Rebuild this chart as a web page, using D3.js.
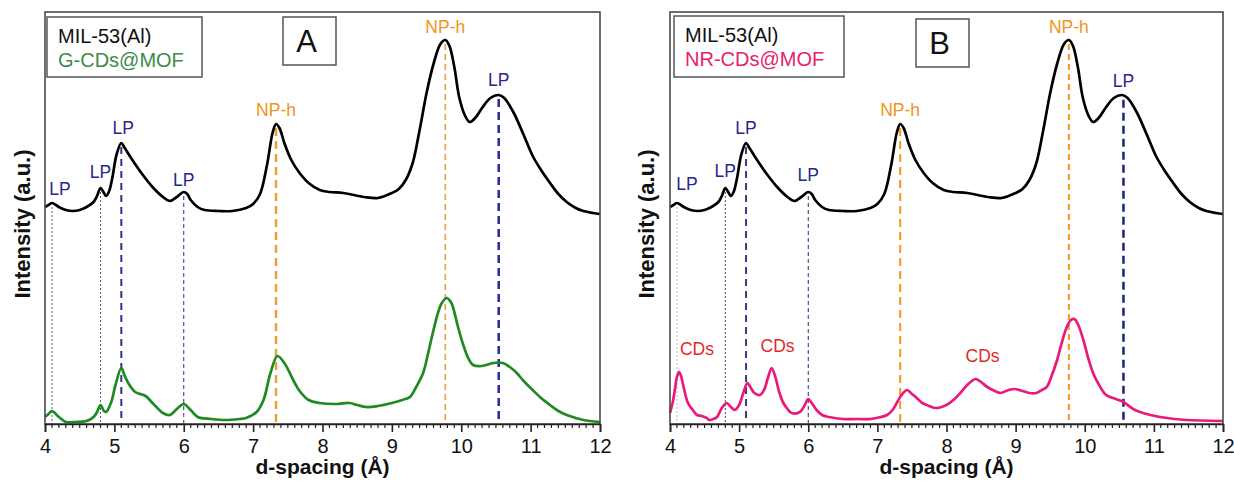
<!DOCTYPE html>
<html>
<head>
<meta charset="utf-8">
<script src="https://cdn.jsdelivr.net/npm/d3@7"></script>
<style>
  html, body { margin: 0; padding: 0; background: #fff; }
  svg { display: block; font-family: "Liberation Sans", Arial, sans-serif; }
</style>
</head>
<body>
<svg id="chart" width="1234" height="481"></svg>
<script>
// ---------------- DATA (arbitrary intensity units) ----------------
const xTicks = [4, 5, 6, 7, 8, 9, 10, 11, 12];

// MIL-53(Al) pattern (black, same in both panels)
const milD = [4.0,4.05,4.1,4.2,4.3,4.4,4.5,4.6,4.7,4.75,4.8,4.85,4.88,4.92,4.97,5.03,5.1,5.15,5.25,5.4,5.55,5.7,5.8,5.9,6.0,6.05,6.1,6.2,6.3,6.5,6.7,6.9,7.0,7.1,7.2,7.28,7.33,7.38,7.45,7.55,7.67,7.8,7.96,8.1,8.3,8.6,8.8,9.0,9.1,9.2,9.3,9.4,9.5,9.6,9.7,9.77,9.83,9.9,9.97,10.05,10.12,10.2,10.3,10.42,10.54,10.62,10.75,10.9,11.03,11.15,11.28,11.4,11.52,11.65,11.76,11.9,12.0];
const milI = [217,219,221,217,214,213,214,217,222,228,236,231,228,232,246,269,281,276,265,250,237,227,223,227,232,230,224,217,214,213,213,216,220,230,259,291,300,296,281,264,251,241,234,232,231,227,226,231,235,244,261,294,331,360,380,384,378,357,327,309,302,306,316,326,329,326,312,289,268,254,241,230,222,216,213,211,210];

// G-CDs@MOF (green, panel A)
const gD = [4.0,4.05,4.1,4.2,4.3,4.45,4.6,4.7,4.75,4.8,4.85,4.88,4.95,5.02,5.1,5.15,5.2,5.3,5.45,5.55,5.7,5.8,5.9,6.0,6.1,6.2,6.4,6.6,6.8,6.9,7.05,7.15,7.25,7.35,7.45,7.6,7.67,7.8,7.96,8.2,8.39,8.5,8.63,8.8,9.0,9.15,9.26,9.35,9.45,9.52,9.59,9.66,9.72,9.79,9.85,9.88,9.95,10.02,10.1,10.17,10.3,10.46,10.6,10.7,10.8,10.9,11.03,11.15,11.28,11.4,11.52,11.65,11.76,12.0];
const gI = [7,10,13,7,2,2,3,7,12,19,13,12,21,40,56,48,41,32,28,21,11,9,15,20,14,7,5,4,5,6,12,24,51,68,61,41,33,24,21,20,21,19,17,18,21,24,27,37,51,70,91,110,121,126,122,117,98,81,66,59,58,61,61,57,51,43,34,26,19,13,9,6,4,2];

// NR-CDs@MOF (pink, panel B)
const nrD = [4.0,4.04,4.07,4.1,4.13,4.16,4.2,4.26,4.33,4.39,4.46,4.53,4.57,4.63,4.68,4.75,4.82,4.88,4.94,5.0,5.06,5.12,5.17,5.22,5.3,5.36,5.42,5.47,5.52,5.58,5.64,5.7,5.76,5.88,5.95,6.0,6.06,6.12,6.2,6.3,6.5,6.7,6.9,7.05,7.14,7.22,7.28,7.35,7.43,7.5,7.57,7.65,7.75,7.85,8.0,8.1,8.2,8.3,8.42,8.5,8.59,8.7,8.78,8.9,8.99,9.1,9.2,9.3,9.38,9.45,9.52,9.6,9.67,9.74,9.8,9.85,9.9,9.98,10.05,10.12,10.2,10.31,10.45,10.56,10.7,10.8,10.95,11.09,11.3,11.47,12.0];
const nrI = [11,22,34,47,52,48,36,21,14,9,8,6,4,5,7,16,21,17,14,19,31,41,36,31,29,34,47,56,48,32,21,15,11,12,19,25,20,14,9,7,5,5,5,7,9,14,21,29,34,30,26,21,18,16,19,24,31,39,45,42,37,33,31,34,35,33,31,31,34,37,48,64,82,97,104,105,100,84,66,51,40,29,25,22,15,12,9,7,5,4,3];

// Reference lines (d-spacing, phase label)
const refA_D = [4.1, 4.8, 5.1, 6.0, 7.33, 9.77, 10.54];
const refB_D = [4.1, 4.8, 5.1, 6.0, 7.33, 9.77, 10.56];
const refLabels = ["LP", "LP", "LP", "LP", "NP-h", "NP-h", "LP"];

// CDs peaks in panel B
const cdsD = [4.13, 5.47, 8.42];
const cdsLabels = ["CDs", "CDs", "CDs"];

const legendA = ["MIL-53(Al)", "G-CDs@MOF"];
const legendB = ["MIL-53(Al)", "NR-CDs@MOF"];
const panelLetters = ["A", "B"];
const xTitle = "d-spacing (Å)";
const yTitle = "Intensity (a.u.)";

// ---------------- DRAWING ----------------
const svg = d3.select("#chart");
const navy = "#25258f";
const orangeTxt = "#f39320";
const zip = (xs, ys) => xs.map((x, i) => ({x, y: ys[i]}));
const interp = (xs, ys, v) => {
  for (let i = 0; i < xs.length - 1; i++) {
    if (v >= xs[i] && v <= xs[i + 1]) {
      const t = (v - xs[i]) / (xs[i + 1] - xs[i]);
      return ys[i] + t * (ys[i + 1] - ys[i]);
    }
  }
  return ys[ys.length - 1];
};

const panels = [
  {x0: 45, x1: 600, y0: 424, y1: 12, cD: gD, cI: gI, color: "#1f8a1f", legend: legendA, legColor: "#3b8c4a",
   legBox: [47, 17, 155, 60], letterBox: [283, 17, 53, 48], refD: refA_D, ylabX: 30,
   lineStyles: [
     {c: "#5a5a7a", w: 1, da: "2,2"}, {c: "#5a5a7a", w: 1, da: "2,2"}, {c: "#30309a", w: 2, da: "7,5"},
     {c: "#30307f", w: 1, da: "4,3"}, {c: "#e9a03a", w: 2.5, da: "8,5"}, {c: "#e9a03a", w: 1.6, da: "6,4"},
     {c: "#2828a0", w: 2.5, da: "8,5"}],
   labDx: [8, 0, 2, 0, 0, 0, 0], labDy: [8, 10, 9, 6, 8, 7, 9]},
  {x0: 670, x1: 1223, y0: 424, y1: 12, cD: nrD, cI: nrI, color: "#ea1a7d", legend: legendB, legColor: "#e8206e",
   legBox: [674, 16, 170, 61], letterBox: [916, 19, 53, 48], refD: refB_D, ylabX: 654,
   lineStyles: [
     {c: "#bdbdbd", w: 1, da: "2,2"}, {c: "#4a4a6a", w: 1, da: "2,2"}, {c: "#3c3c80", w: 2, da: "7,5"},
     {c: "#2a2a70", w: 1, da: "4,3"}, {c: "#f7931e", w: 2, da: "8,5"}, {c: "#f7931e", w: 2, da: "6,4"},
     {c: "#1a2380", w: 2.5, da: "8,5"}],
   labDx: [10, 0, 0, 0, 0, 0, 0], labDy: [13, 11, 9, 11, 8, 7, 9]}
];

panels.forEach((p, pi) => {
  const x = d3.scaleLinear().domain([4, 12]).range([p.x0, p.x1]);
  const y = d3.scaleLinear().domain([0, 412]).range([p.y0, p.y1]);
  const g = svg.append("g");

  // reference lines
  p.refD.forEach((d, i) => {
    const top = y(interp(milD, milI, d)) + 4;
    const s = p.lineStyles[i];
    g.append("line").attr("x1", x(d)).attr("x2", x(d)).attr("y1", top).attr("y2", p.y0)
      .attr("stroke", s.c).attr("stroke-width", s.w).attr("stroke-dasharray", s.da);
    g.append("text").attr("x", x(d) + p.labDx[i]).attr("y", y(interp(milD, milI, d)) - p.labDy[i])
      .attr("text-anchor", "middle").attr("font-size", 17.5)
      .attr("fill", refLabels[i] === "LP" ? navy : orangeTxt).text(refLabels[i]);
  });

  const line = d3.line().x(d => x(d.x)).y(d => y(d.y)).curve(d3.curveCatmullRom.alpha(0.5));
  g.append("path").datum(zip(milD, milI)).attr("d", line)
    .attr("fill", "none").attr("stroke", "#000").attr("stroke-width", 2.7).attr("stroke-linejoin", "round");
  g.append("path").datum(zip(p.cD, p.cI)).attr("d", line)
    .attr("fill", "none").attr("stroke", p.color).attr("stroke-width", 2.7).attr("stroke-linejoin", "round");

  if (pi === 1) {
    const cdx = [18, 6, 7], cdy = [17, 16, 17];
    cdsD.forEach((d, i) => {
      g.append("text").attr("x", x(d) + cdx[i]).attr("y", y(interp(nrD, nrI, d)) - cdy[i])
        .attr("text-anchor", "middle").attr("font-size", 17.5).attr("fill", "#e02a2a").text(cdsLabels[i]);
    });
  }

  // frame
  g.append("rect").attr("x", p.x0).attr("y", p.y1).attr("width", p.x1 - p.x0).attr("height", p.y0 - p.y1)
    .attr("fill", "none").attr("stroke", "#4a4a4a").attr("stroke-width", 1.6);

  // x axis ticks
  const minor = d3.range(40, 121).map(v => v / 10).filter(v => Math.abs(v - Math.round(v)) > 1e-6);
  g.selectAll(null).data(minor).join("line")
    .attr("x1", d => x(d)).attr("x2", d => x(d)).attr("y1", p.y0).attr("y2", p.y0 + 4)
    .attr("stroke", "#222").attr("stroke-width", 1.2);
  const axis = d3.axisBottom(x).tickValues(xTicks).tickSize(8).tickPadding(7).tickFormat(d3.format("d"));
  const ax = g.append("g").attr("transform", `translate(0,${p.y0})`).call(axis);
  ax.select(".domain").attr("stroke", "#222").attr("stroke-width", 1.6);
  ax.selectAll(".tick line").attr("stroke", "#222").attr("stroke-width", 1.6);
  ax.selectAll(".tick text").attr("font-size", 20).attr("fill", "#111")
    .attr("font-family", "Liberation Sans, Arial, sans-serif");

  // axis titles
  g.append("text").attr("x", (p.x0 + p.x1) / 2).attr("y", 474).attr("text-anchor", "middle")
    .attr("font-size", 21).attr("font-weight", "bold").attr("fill", "#111").text(xTitle);
  g.append("text").attr("transform", `translate(${p.ylabX},${(p.y0 + p.y1) / 2 + 6}) rotate(-90)`)
    .attr("text-anchor", "middle").attr("font-size", 22).attr("font-weight", "bold").attr("fill", "#111").text(yTitle);

  // legend box
  const lb = p.legBox;
  g.append("rect").attr("x", lb[0]).attr("y", lb[1]).attr("width", lb[2]).attr("height", lb[3])
    .attr("fill", "#fff").attr("stroke", "#555").attr("stroke-width", 1.5);
  g.append("text").attr("x", lb[0] + 11).attr("y", lb[1] + 26).attr("font-size", 20).attr("fill", "#111").text(p.legend[0]);
  g.append("text").attr("x", lb[0] + 11).attr("y", lb[1] + 50).attr("font-size", 20).attr("fill", p.legColor).text(p.legend[1]);

  // panel letter box
  const bb = p.letterBox;
  g.append("rect").attr("x", bb[0]).attr("y", bb[1]).attr("width", bb[2]).attr("height", bb[3])
    .attr("fill", "#fff").attr("stroke", "#555").attr("stroke-width", 1.5);
  g.append("text").attr("x", bb[0] + bb[2] / 2 - 3).attr("y", bb[1] + 35).attr("text-anchor", "middle")
    .attr("font-size", 31).attr("fill", "#111").text(panelLetters[pi]);
});
</script>
</body>
</html>
